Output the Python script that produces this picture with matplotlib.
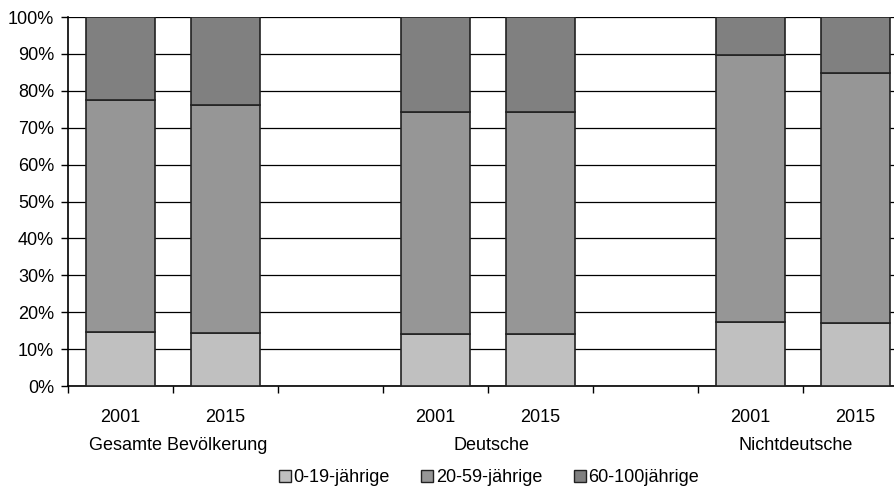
import numpy as np
import matplotlib.pyplot as plt
from matplotlib.patches import Patch
from matplotlib.transforms import blended_transform_factory

plt.rcParams["font.family"] = ["Liberation Sans", "DejaVu Sans"]

groups = ["Gesamte Bevölkerung", "Deutsche", "Nichtdeutsche"]
years = ["2001", "2015"]
age_labels = ["0-19-jährige", "20-59-jährige", "60-100jährige"]

# shares in percent, order: Gesamt 2001, 2015, Deutsche 2001, 2015, Nichtdeutsche 2001, 2015
young = np.array([14.7, 14.5, 14.2, 14.1, 17.4, 17.0])
middle_top = np.array([77.5, 76.3, 74.3, 74.3, 89.7, 84.8])
middle = middle_top - young
old = 100 - middle_top

colors = ["#c0c0c0", "#969696", "#808080"]

# slot positions: two bars per group, one empty slot between groups
pos = np.array([0, 1, 3, 4, 6, 7])

fig = plt.figure(figsize=(8.95, 4.88), dpi=100)
ax = fig.add_axes([68 / 895, 0.209, 1 - 68 / 895, 0.756])

w = 0.66
ax.bar(pos, young, w, color=colors[0], edgecolor="#222222", linewidth=1.2, zorder=3)
ax.bar(pos, middle, w, bottom=young, color=colors[1], edgecolor="#222222", linewidth=1.2, zorder=3)
ax.bar(pos, old, w, bottom=middle_top, color=colors[2], edgecolor="#222222", linewidth=1.2, zorder=3)

ax.set_yticks(np.arange(0, 101, 10))
ax.set_yticklabels([f"{v}%" for v in range(0, 101, 10)], fontsize=13)
ax.yaxis.grid(True, color="black", linewidth=0.9, zorder=0)
ax.set_axisbelow(True)

ax.set_xticks(np.arange(-0.5, 8, 1))
ax.set_xticklabels([])
ax.tick_params(axis="x", direction="out", length=5, width=1)
ax.tick_params(axis="y", direction="out", length=5, width=1, pad=5)
ax.set_ylim(0, 100)
ax.set_xlim(-0.5, 7.376)

for s in ["top", "right"]:
    ax.spines[s].set_visible(False)
for s in ["left", "bottom"]:
    ax.spines[s].set_linewidth(1.2)

tr = blended_transform_factory(ax.transData, fig.transFigure)
for i, p in enumerate(pos):
    ax.text(p, 1 - 417 / 488, years[i % 2], transform=tr, ha="center", va="center", fontsize=13)
group_x = [0.553, 3.535, 6.43]
for g, gx in zip(groups, group_x):
    ax.text(gx, 1 - 445 / 488, g, transform=tr, ha="center", va="center", fontsize=13)

handles = [Patch(facecolor=c, edgecolor="#222222", linewidth=1) for c in colors]
fig.legend(handles, age_labels, loc="center", bbox_to_anchor=(489 / 895, 1 - 478 / 488),
           ncol=3, frameon=False, fontsize=13, handlelength=0.65, handleheight=0.65,
           handletextpad=0.15, columnspacing=1.75, borderpad=0.1)

fig.savefig("out.png", dpi=100)
